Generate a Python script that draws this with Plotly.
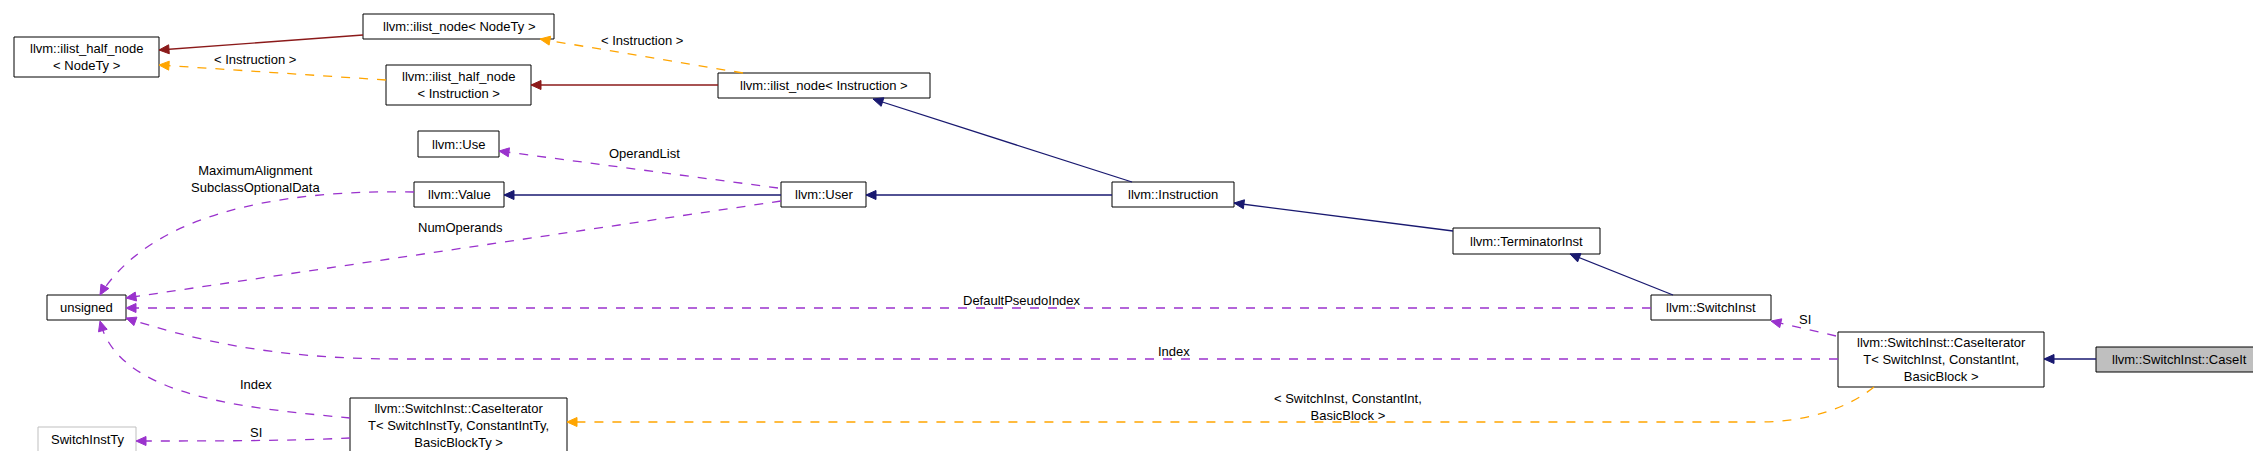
import plotly.graph_objects as go

W, H = 2261, 451
# nodes: name, label, x0, y0, x1, y1
node_names = ["ihn_nodety", "in_nodety", "ihn_instr", "in_instr", "use", "value", "user",
              "instruction", "terminator", "switchinst", "unsigned", "cit_generic",
              "switchinstty", "cit_concrete", "caseit"]
node_labels = ["llvm::ilist_half_node<br>< NodeTy >", "llvm::ilist_node< NodeTy >",
               "llvm::ilist_half_node<br>< Instruction >", "llvm::ilist_node< Instruction >",
               "llvm::Use", "llvm::Value", "llvm::User", "llvm::Instruction",
               "llvm::TerminatorInst", "llvm::SwitchInst", "unsigned",
               "llvm::SwitchInst::CaseIterator<br>T< SwitchInstTy, ConstantIntTy,<br>BasicBlockTy >",
               "SwitchInstTy",
               "llvm::SwitchInst::CaseIterator<br>T< SwitchInst, ConstantInt,<br>BasicBlock >",
               "llvm::SwitchInst::CaseIt"]
node_boxes = [(6, 29, 151, 69), (355, 6, 546, 31), (378, 57, 523, 97), (710, 65, 922, 90),
              (410, 123, 491, 149), (406, 174, 496, 199), (773, 174, 858, 199),
              (1104, 174, 1226, 199), (1445, 220, 1592, 246), (1643, 287, 1763, 312),
              (39, 287, 118, 312), (342, 390, 559, 444), (30, 419, 128, 444),
              (1830, 324, 2036, 379), (2088, 339, 2255, 364)]

NAVY, RED, ORANGE, PURPLE = "#191970", "#8b1a1a", "#ffa500", "#9a32cd"
# edges: svg path, tip, point before tip (for arrow direction), color, dashed
edge_paths = [
    ("M355,27 L151,42", (151, 42), (355, 27), RED, False),
    ("M710,77 L523,77", (523, 77), (710, 77), RED, False),
    ("M735,65 L532,31", (532, 31), (735, 65), ORANGE, True),
    ("M378,72 L151,57", (151, 57), (378, 72), ORANGE, True),
    ("M1124,174 L865,91", (865, 91), (1124, 174), NAVY, False),
    ("M773,187 L496,187", (496, 187), (773, 187), NAVY, False),
    ("M1104,187 L858,187", (858, 187), (1104, 187), NAVY, False),
    ("M1445,223 L1226,195", (1226, 195), (1445, 223), NAVY, False),
    ("M1665,287 L1562,246", (1562, 246), (1665, 287), NAVY, False),
    ("M1828,328 L1763,313", (1763, 313), (1828, 328), PURPLE, True),
    ("M2088,351 L2036,351", (2036, 351), (2088, 351), NAVY, False),
    ("M770,180 L491,143", (491, 143), (770, 180), PURPLE, True),
    ("M406,184 C300,182 150,195 92,287", (92, 287), (110, 255), PURPLE, True),
    ("M773,193 L118,290", (118, 290), (773, 193), PURPLE, True),
    ("M1643,300 L118,300", (118, 300), (1643, 300), PURPLE, True),
    ("M1830,351 L390,351 C260,351 180,330 118,310", (118, 310), (160, 325), PURPLE, True),
    ("M342,410 C240,400 110,390 92,313", (92, 313), (100, 340), PURPLE, True),
    ("M342,430 C280,433 200,433 128,433", (128, 433), (200, 433), PURPLE, True),
    ("M1866,379 C1840,400 1800,414 1750,414 L559,414", (559, 414), (700, 414), ORANGE, True),
]
edge_labels = [("< Instruction >", 634, 32), ("< Instruction >", 247, 51),
               ("OperandList", 636, 145), ("MaximumAlignment<br>SubclassOptionalData", 247, 171),
               ("NumOperands", 452, 219), ("DefaultPseudoIndex", 1014, 292),
               ("Index", 1166, 343), ("Index", 248, 376), ("SI", 248, 424), ("SI", 1797, 311),
               ("< SwitchInst, ConstantInt,<br>BasicBlock >", 1340, 399)]

FONT = dict(family="Liberation Sans", size=13, color="black")
fig = go.Figure()
shapes, annos = [], []
for name, lab, (x0, y0, x1, y1) in zip(node_names, node_labels, node_boxes):
    fill = "#bfbfbf" if name == "caseit" else "white"
    border = "#bfbfbf" if name == "switchinstty" else "black"
    shapes.append(dict(type="rect", x0=x0, y0=y0, x1=x1, y1=y1, xref="x", yref="y",
                       fillcolor=fill, line=dict(color=border, width=1), layer="above"))
    annos.append(dict(x=(x0 + x1) / 2, y=(y0 + y1) / 2, text=lab, showarrow=False,
                      font=FONT, xref="x", yref="y"))

for path, tip, prev, col, dashed in edge_paths:
    shapes.append(dict(type="path", path=path, xref="x", yref="y",
                       line=dict(color=col, width=1.3, dash="dash" if dashed else "solid")))
    dx, dy = tip[0] - prev[0], tip[1] - prev[1]
    L = (dx * dx + dy * dy) ** 0.5
    ux, uy = dx / L, dy / L
    bx, by = tip[0] - 10 * ux, tip[1] - 10 * uy
    px, py = -uy * 4.5, ux * 4.5
    shapes.append(dict(type="path", xref="x", yref="y",
                       path=f"M{tip[0]},{tip[1]} L{bx+px},{by+py} L{bx-px},{by-py} Z",
                       fillcolor=col, line=dict(color=col, width=1)))

for txt, x, y in edge_labels:
    annos.append(dict(x=x, y=y, text=txt, showarrow=False, font=FONT, xref="x", yref="y"))

fig.update_layout(width=W, height=H, margin=dict(l=0, r=0, t=0, b=0),
                  paper_bgcolor="white", plot_bgcolor="white",
                  shapes=shapes, annotations=annos, showlegend=False,
                  xaxis=dict(range=[0, W], visible=False, fixedrange=True),
                  yaxis=dict(range=[H, 0], visible=False, fixedrange=True))
fig.write_html("out.html", config=dict(displayModeBar=False))
